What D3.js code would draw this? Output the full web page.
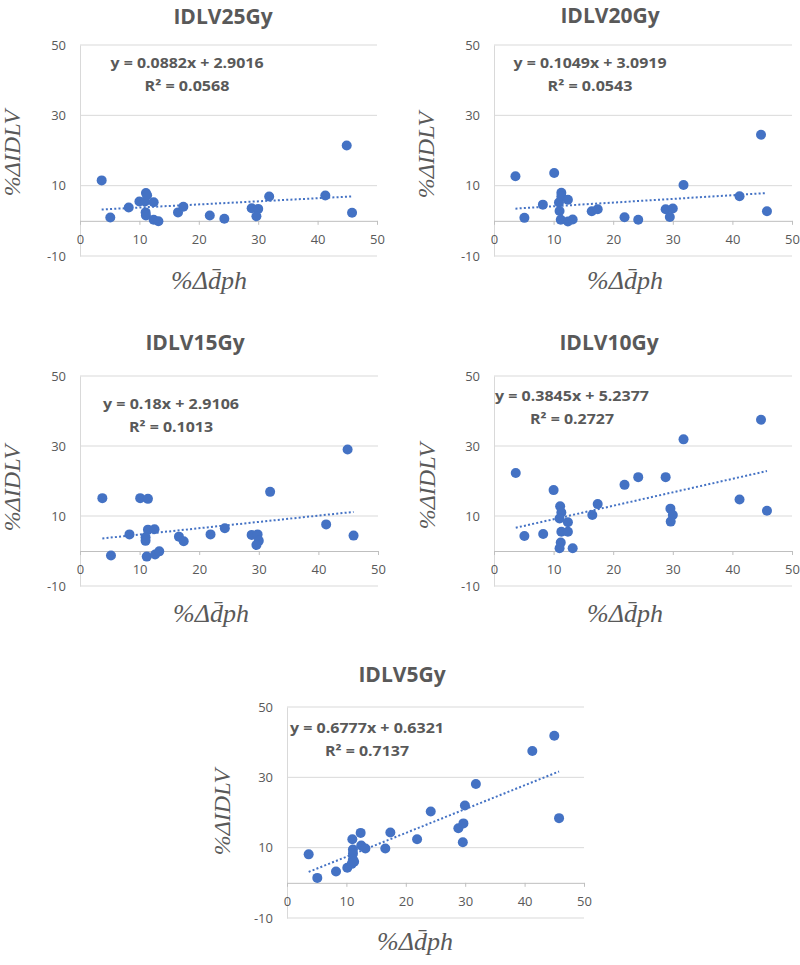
<!DOCTYPE html>
<html>
<head>
<meta charset="utf-8">
<script src="https://cdn.jsdelivr.net/npm/d3@7/dist/d3.min.js"></script>
<style>
  body { margin: 0; background: #fff; }
  svg { display: block; }
</style>
</head>
<body>
<svg id="chart" width="800" height="965"></svg>
<script>
// ---- data ----
const panelTitles = ["IDLV25Gy", "IDLV20Gy", "IDLV15Gy", "IDLV10Gy", "IDLV5Gy"];
const xTicks = [0, 10, 20, 30, 40, 50];
const yTicks = [-10, 10, 30, 50];
const xDomain = [0, 50];
const yDomain = [-10, 50];

const points25 = [[3.65,11.5],[5.1,0.95],[8.2,3.8],[10.0,5.5],[10.95,5.5],[11.1,7.9],[11.3,7.3],[11.05,2.4],[11.1,1.5],[12.4,5.3],[12.4,0.3],[13.2,-0.1],[16.5,2.4],[17.4,4.0],[21.85,1.5],[24.3,0.6],[28.9,3.6],[30.0,3.4],[29.7,1.3],[31.85,6.9],[41.3,7.2],[44.9,21.4],[45.8,2.3]];
const points20 = [[3.6,12.7],[5.1,0.85],[8.2,4.6],[10.1,13.6],[11.3,8.0],[11.3,6.9],[10.9,5.2],[11.0,2.8],[11.2,0.3],[12.4,6.0],[12.4,-0.2],[13.2,0.4],[16.4,2.7],[17.4,3.3],[21.9,1.0],[24.2,0.3],[28.8,3.3],[30.0,3.5],[29.5,1.1],[31.8,10.2],[41.2,7.0],[44.8,24.5],[45.8,2.7]];
const points15 = [[3.75,15.1],[5.2,-1.3],[8.3,4.75],[10.1,15.1],[11.4,14.9],[11.4,6.1],[11.0,3.9],[11.0,2.9],[11.2,-1.6],[12.5,6.2],[12.6,-1.0],[13.3,-0.1],[16.6,4.1],[17.4,2.8],[21.9,4.75],[24.3,6.5],[28.8,4.6],[29.8,4.75],[30.0,2.9],[29.6,1.7],[31.9,16.9],[41.3,7.6],[44.9,29.0],[45.9,4.4]];
const points10 = [[3.65,22.3],[5.1,4.3],[8.25,4.85],[10.0,17.4],[11.1,12.8],[11.3,11.0],[11.0,9.3],[11.3,5.5],[11.2,2.4],[11.0,0.8],[12.4,8.2],[12.4,5.5],[13.2,0.8],[16.5,10.3],[17.4,13.4],[21.9,18.9],[24.2,21.1],[28.8,21.1],[29.6,12.1],[30.0,10.3],[29.65,8.4],[31.8,31.9],[41.2,14.7],[44.8,37.5],[45.8,11.5]];
const points5 = [[3.65,8.1],[5.1,1.4],[8.25,3.2],[10.15,4.3],[11.0,12.4],[11.1,9.5],[11.1,8.3],[11.1,6.6],[10.9,5.4],[11.3,6.0],[12.4,14.2],[12.5,10.6],[13.2,9.75],[16.55,9.75],[17.4,14.3],[21.9,12.4],[24.2,20.3],[28.85,15.5],[29.7,16.9],[29.6,11.55],[29.95,22.0],[31.8,28.1],[41.3,37.5],[45.0,41.8],[45.8,18.4]];

const slopes = [0.0882, 0.1049, 0.18, 0.3845, 0.6777];
const intercepts = [2.9016, 3.0919, 2.9106, 5.2377, 0.6321];
const equationLabels = ["y = 0.0882x + 2.9016", "y = 0.1049x + 3.0919", "y = 0.18x + 2.9106", "y = 0.3845x + 5.2377", "y = 0.6777x + 0.6321"];
const r2Labels = ["R² = 0.0568", "R² = 0.0543", "R² = 0.1013", "R² = 0.2727", "R² = 0.7137"];
const yAxisTitle = "%ΔIDLV";
const xAxisTitle = "%Δd\u0304ph";

// ---- layout (positions only) ----
const layouts = [
  {x0:80,  x1:377, y0:45,  y1:256, tx:223, ty:24,  ex:187, ey:68,  ew:153, rw:85, ylx:12,  yly:153, xlx:209, xly:289},
  {x0:494, x1:792, y0:45,  y1:256, tx:610, ty:23,  ex:590, ey:68,  ew:153, rw:85, ylx:426, yly:155, xlx:625, xly:289},
  {x0:80,  x1:378, y0:376, y1:586, tx:195, ty:350, ex:171, ey:409, ew:136, rw:84, ylx:12,  yly:488, xlx:211, xly:622},
  {x0:494, x1:792, y0:376, y1:586, tx:609, ty:350, ex:572, ey:401, ew:154, rw:84, ylx:427, yly:486, xlx:625, xly:622},
  {x0:287, x1:584, y0:707, y1:918, tx:402, ty:682, ex:367, ey:733, ew:154, rw:84, ylx:222, yly:812, xlx:415, xly:950}
];
const allPoints = [points25, points20, points15, points10, points5];

const svg = d3.select("#chart");
const textColor = "#595959";
const blue = "#4472C4";
const font = "'Open Sans', 'Liberation Sans', sans-serif";
const mathFont = "'Liberation Serif', 'DejaVu Serif', serif";
const fmt = d => String(d);

allPoints.forEach((pts, i) => {
  const L = layouts[i];
  const x = d3.scaleLinear().domain(xDomain).range([L.x0, L.x1]);
  const y = d3.scaleLinear().domain(yDomain).range([L.y1, L.y0]);
  const g = svg.append("g");

  // gridlines
  g.append("g").selectAll("line").data(yTicks).join("line")
    .attr("x1", L.x0).attr("x2", L.x1)
    .attr("y1", d => y(d)).attr("y2", d => y(d))
    .attr("stroke", "#d9d9d9").attr("stroke-width", 1);

  // y axis (line + labels)
  const yAxis = d3.axisLeft(y).tickValues(yTicks).tickFormat(fmt).tickSize(0).tickPadding(14);
  const ya = g.append("g").attr("transform", `translate(${L.x0},0)`).call(yAxis);
  ya.select(".domain").attr("stroke", "#d9d9d9").attr("stroke-width", 1);
  ya.selectAll("text").attr("fill", textColor).style("font-family", font).style("font-size", "13px");

  // x axis at y = 0
  const xAxis = d3.axisBottom(x).tickValues(xTicks).tickFormat(fmt).tickSize(4).tickSizeOuter(0).tickPadding(10);
  const xa = g.append("g").attr("transform", `translate(0,${y(0)})`).call(xAxis);
  xa.select(".domain").attr("stroke", "#bfbfbf").attr("stroke-width", 1);
  xa.selectAll(".tick line").attr("stroke", "#bfbfbf");
  xa.selectAll("text").attr("fill", textColor).style("font-family", font).style("font-size", "13px");

  // trendline
  const xs = pts.map(p => p[0]);
  const xmin = d3.min(xs), xmax = d3.max(xs);
  const line = d3.line().x(d => x(d)).y(d => y(slopes[i] * d + intercepts[i]));
  g.append("path").datum([xmin, xmax]).attr("d", line)
    .attr("fill", "none").attr("stroke", blue).attr("stroke-width", 2)
    .attr("stroke-dasharray", "2,2.2");

  // points
  g.append("g").selectAll("circle").data(pts).join("circle")
    .attr("cx", d => x(d[0])).attr("cy", d => y(d[1])).attr("r", 5)
    .attr("fill", blue);

  // title
  g.append("text").attr("x", L.tx).attr("y", L.ty).attr("text-anchor", "middle")
    .attr("fill", textColor).style("font-family", font).style("font-weight", "700")
    .style("font-size", "21px").text(panelTitles[i]);

  // equation
  g.append("text").attr("x", L.ex).attr("y", L.ey).attr("text-anchor", "middle")
    .attr("fill", textColor).style("font-family", font).style("font-weight", "700")
    .style("font-size", "14px").attr("textLength", L.ew).attr("lengthAdjust", "spacingAndGlyphs")
    .text(equationLabels[i]);
  g.append("text").attr("x", L.ex).attr("y", L.ey + 22.5).attr("text-anchor", "middle")
    .attr("fill", textColor).style("font-family", font).style("font-weight", "700")
    .style("font-size", "14px").attr("textLength", L.rw).attr("lengthAdjust", "spacingAndGlyphs")
    .text(r2Labels[i]);

  // axis titles
  g.append("text").attr("transform", `translate(${L.ylx + 8},${L.yly}) rotate(-90)`)
    .attr("text-anchor", "middle").attr("fill", textColor)
    .style("font-family", mathFont).style("font-style", "italic").style("font-size", "24px")
    .text(yAxisTitle);
  g.append("text").attr("x", L.xlx).attr("y", L.xly).attr("text-anchor", "middle")
    .attr("fill", textColor)
    .style("font-family", mathFont).style("font-style", "italic").style("font-size", "26px")
    .text(xAxisTitle);
});
</script>
</body>
</html>
